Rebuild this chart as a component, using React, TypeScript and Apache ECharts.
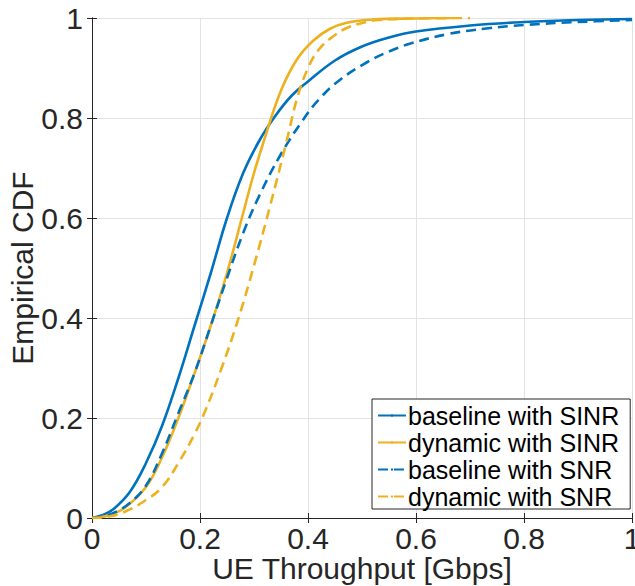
import React, { useEffect, useRef } from "react";
import * as echarts from "echarts";

const seriesNames = [
  "baseline with SINR",
  "dynamic with SINR",
  "baseline with SNR",
  "dynamic with SNR",
];

const baselineSINR: [number, number][] = [
  [0, 0], [0.02, 0.006], [0.04, 0.018], [0.07, 0.052], [0.1, 0.11], [0.13, 0.185],
  [0.16, 0.28], [0.19, 0.385], [0.22, 0.49], [0.25, 0.6], [0.28, 0.69], [0.31, 0.755],
  [0.34, 0.805], [0.37, 0.845], [0.4, 0.873], [0.45, 0.915], [0.5, 0.943], [0.55, 0.961],
  [0.6, 0.973], [0.7, 0.985], [0.8, 0.992], [0.9, 0.996], [1.0, 0.998],
];

const dynamicSINR: [number, number][] = [
  [0, 0], [0.03, 0.005], [0.06, 0.02], [0.1, 0.062], [0.13, 0.122], [0.16, 0.2],
  [0.19, 0.29], [0.22, 0.385], [0.25, 0.49], [0.28, 0.61], [0.3, 0.69], [0.32, 0.76],
  [0.35, 0.855], [0.38, 0.918], [0.41, 0.955], [0.44, 0.978], [0.47, 0.99], [0.52, 0.997],
  [0.6, 0.999], [0.67, 1.0],
];

const baselineSNR: [number, number][] = [
  [0, 0], [0.02, 0.003], [0.04, 0.01], [0.07, 0.03], [0.1, 0.065], [0.13, 0.13],
  [0.16, 0.21], [0.19, 0.29], [0.22, 0.385], [0.25, 0.48], [0.28, 0.57], [0.31, 0.645],
  [0.35, 0.728], [0.39, 0.795], [0.42, 0.837], [0.46, 0.877], [0.51, 0.912], [0.55, 0.933],
  [0.59, 0.949], [0.66, 0.968], [0.73, 0.979], [0.8, 0.986], [0.9, 0.992], [1.0, 0.996],
];

const dynamicSNR: [number, number][] = [
  [0, 0], [0.03, 0.003], [0.06, 0.012], [0.1, 0.036], [0.13, 0.062], [0.16, 0.11],
  [0.19, 0.168], [0.21, 0.215], [0.24, 0.3], [0.27, 0.395], [0.3, 0.505], [0.33, 0.625],
  [0.36, 0.752], [0.38, 0.84], [0.4, 0.9], [0.42, 0.937], [0.445, 0.962], [0.47, 0.979],
  [0.5, 0.99], [0.53, 0.996], [0.6, 0.999], [0.7, 1.0],
];

const BLUE = "#0072BD";
const YELLOW = "#EDB120";
const FONT = "Liberation Sans";
const AXIS_COLOR = "#262626";

export default function App() {
  const ref = useRef<HTMLDivElement>(null);

  useEffect(() => {
    if (!ref.current) return;
    const chart = echarts.init(ref.current, undefined, { renderer: "svg" });

    const mkSeries = (name: string, data: [number, number][], color: string, dashed: boolean) => ({
      name,
      type: "line",
      data,
      showSymbol: false,
      symbol: "none",
      smooth: 0.4,
      xAxisIndex: 0,
      yAxisIndex: 0,
      lineStyle: { color, width: 2.6, type: dashed ? [10, 6] : "solid" },
      itemStyle: { color },
    });

    const baseX = {
      type: "value",
      min: 0,
      max: 1,
      interval: 0.2,
      axisLine: { show: true, lineStyle: { color: AXIS_COLOR, width: 1 } },
      axisTick: { show: true, inside: true, length: 5, lineStyle: { color: AXIS_COLOR } },
    };

    chart.setOption({
      animation: false,
      backgroundColor: "#ffffff",
      grid: { left: 92, right: 3, top: 18, bottom: 68, containLabel: false, outerBoundsMode: "none" },
      legend: {
        data: seriesNames,
        orient: "vertical",
        left: 372,
        top: 399,
        itemWidth: 28,
        itemHeight: 3,
        itemGap: 2,
        padding: [4, 11, 0, 5],
        backgroundColor: "#ffffff",
        borderColor: AXIS_COLOR,
        borderWidth: 1,
        borderRadius: 0,
        textStyle: { fontFamily: FONT, fontSize: 25, color: "#000000", padding: [0, 0, 0, -3] },
      },
      xAxis: [
        {
          ...baseX,
          position: "bottom",
          name: "UE Throughput [Gbps]",
          nameLocation: "middle",
          nameGap: 35,
          nameMoveOverlap: false,
          nameTextStyle: { fontFamily: FONT, fontSize: 30, color: AXIS_COLOR },
          axisLabel: { fontFamily: FONT, fontSize: 30, color: AXIS_COLOR, margin: 5 },
          splitLine: { show: true, lineStyle: { color: "#e3e3e3", width: 1 } },
        },
        {
          ...baseX,
          position: "top",
          axisLabel: { show: false },
          splitLine: { show: false },
        },
      ],
      yAxis: [
        {
          type: "value",
          min: 0,
          max: 1,
          interval: 0.2,
          position: "left",
          name: "Empirical CDF",
          nameLocation: "middle",
          nameGap: 55,
          nameMoveOverlap: false,
          nameTextStyle: { fontFamily: FONT, fontSize: 30, color: AXIS_COLOR },
          axisLine: { show: true, lineStyle: { color: AXIS_COLOR, width: 1 } },
          axisTick: { show: true, inside: true, length: 5, lineStyle: { color: AXIS_COLOR } },
          axisLabel: { fontFamily: FONT, fontSize: 30, color: AXIS_COLOR, margin: 9 },
          splitLine: { show: true, lineStyle: { color: "#e3e3e3", width: 1 } },
        },
        {
          type: "value",
          min: 0,
          max: 1,
          interval: 0.2,
          position: "right",
          axisLine: { show: true, lineStyle: { color: AXIS_COLOR, width: 1 } },
          axisTick: { show: true, inside: true, length: 5, lineStyle: { color: AXIS_COLOR } },
          axisLabel: { show: false },
          splitLine: { show: false },
        },
      ],
      series: [
        mkSeries(seriesNames[0], baselineSINR, BLUE, false),
        mkSeries(seriesNames[1], dynamicSINR, YELLOW, false),
        mkSeries(seriesNames[2], baselineSNR, BLUE, true),
        mkSeries(seriesNames[3], dynamicSNR, YELLOW, true),
      ],
    });

    return () => chart.dispose();
  }, []);

  return <div ref={ref} style={{ width: 635, height: 586, position: "absolute", left: 0, top: 0 }} />;
}
